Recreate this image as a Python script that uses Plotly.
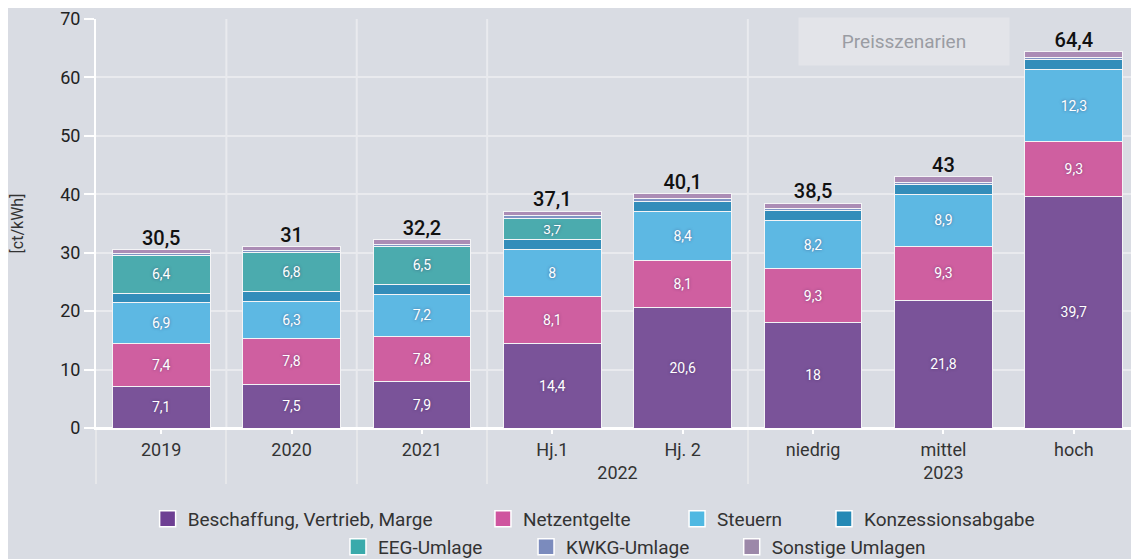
import plotly.graph_objects as go

outer = ["\u200b", "\u200b\u200b", "\u200b\u200b\u200b", "2022", "2022", "2023", "2023", "2023"]
inner = ["2019", "2020", "2021", "Hj.1", "Hj. 2", "niedrig", "mittel", "hoch"]

beschaffung = [7.1, 7.5, 7.9, 14.4, 20.6, 18.0, 21.8, 39.7]
netzentgelte = [7.4, 7.8, 7.8, 8.1, 8.1, 9.3, 9.3, 9.3]
steuern = [6.9, 6.3, 7.2, 8.0, 8.4, 8.2, 8.9, 12.3]
konzession = [1.7, 1.7, 1.7, 1.7, 1.7, 1.7, 1.7, 1.7]
eeg = [6.4, 6.8, 6.5, 3.7, 0, 0, 0, 0]
kwkg = [0.3, 0.2, 0.25, 0.4, 0.4, 0.4, 0.4, 0.4]
sonstige = [0.7, 0.7, 0.85, 0.8, 0.9, 0.9, 0.9, 1.0]
totals = [30.5, 31, 32.2, 37.1, 40.1, 38.5, 43, 64.4]

# name, values, bar colour, legend colour, labelled
series = [
    ("Beschaffung, Vertrieb, Marge", beschaffung, "#7a5399", "#6e3f93", True),
    ("Netzentgelte", netzentgelte, "#cf5fa0", "#cf559f", True),
    ("Steuern", steuern, "#5db8e3", "#4fb8e2", True),
    ("Konzessionsabgabe", konzession, "#338dba", "#2589b5", False),
    ("EEG-Umlage", eeg, "#4babae", "#3aaaab", True),
    ("KWKG-Umlage", kwkg, "#8094c4", "#7b8bbd", False),
    ("Sonstige Umlagen", sonstige, "#ab8cb5", "#9c88a9", False),
]

# legend placement (paper x, paper y) for each series' legend entry
dx = 0.0067
r1, r2 = -0.2225, -0.291
legend_pos = [
    (0.0428 + dx, r1), (0.3643 + dx, r1), (0.5504 + dx, r1), (0.6913 + dx, r1),
    (0.2253 + dx, r2), (0.4056 + dx, r2), (0.6028 + dx, r2),
]

FONT = "Roboto"


def fmt(v):
    return f"{v:g}".replace(".", ",")


fig = go.Figure()
x = [outer, inner]
for i, (name, vals, color, lcolor, labelled) in enumerate(series):
    texts = [fmt(v) if (labelled and v > 2) else "" for v in vals]
    lg = "legend" if i == 0 else f"legend{i + 1}"
    fig.add_trace(go.Bar(
        x=x, y=vals, name=name, legendgroup=name, showlegend=False,
        marker=dict(color=color, line=dict(color="#f4f4f6", width=1)),
        text=texts, textposition="inside", insidetextanchor="middle",
        textangle=0,
        textfont=dict(color="white", size=14, family=FONT,
                      shadow="0px 0px 3px rgba(60,40,90,0.55)"),
        hoverinfo="skip",
    ))
    # legend entry
    fig.add_trace(go.Scatter(
        x=[None], y=[None], mode="markers", name=name, legendgroup=name,
        legend=lg, showlegend=True,
        marker=dict(symbol="square", size=16, color=lcolor,
                    line=dict(color="white", width=1.5)),
        hoverinfo="skip",
    ))

fig.add_trace(go.Scatter(
    x=x, y=totals, mode="text", text=[fmt(t) for t in totals],
    textposition="top center",
    textfont=dict(color="#111111", size=20, family=FONT, weight=500),
    showlegend=False, hoverinfo="skip", cliponaxis=False,
))

BG = "#d9dce3"
GRID = "#e9eaee"

shapes = []
for k in [1, 2, 3, 5, 8]:
    shapes.append(dict(type="line", xref="paper", yref="paper",
                       x0=k / 8, x1=k / 8, y0=0, y1=1,
                       line=dict(color=GRID, width=2), layer="below"))

# the page adds an 8px body margin, so the figure is 8px smaller than the window
layout = dict(
    width=1131, height=551,
    paper_bgcolor=BG, plot_bgcolor=BG,
    barmode="stack", bargap=0.25,
    margin=dict(l=88, r=0, t=11, b=131, autoexpand=False),
    font=dict(family=FONT, size=18, color="#333333"),
    separators=",.",
    shapes=shapes,
    xaxis=dict(
        type="multicategory", showgrid=False, showline=True, automargin=False,
        linecolor="white", linewidth=2, tickson="labels",
        ticks="outside", ticklen=4, tickcolor="white", tickwidth=2,
        showdividers=True, dividercolor="#e6e7ea", dividerwidth=2,
        tickfont=dict(size=18, color="#333333"), ticklabelstandoff=0,
    ),
    yaxis=dict(
        range=[0, 70], dtick=10, showgrid=True, gridcolor=GRID, gridwidth=2,
        showline=True, linecolor="white", linewidth=2, automargin=False,
        ticks="outside", ticklen=10, tickcolor="white", tickwidth=2,
        zeroline=True, zerolinecolor="white", zerolinewidth=2,
        tickfont=dict(size=18, color="#222222"), ticklabeloverflow="allow",
        title=dict(text="[ct/kWh]", font=dict(size=16, color="#333333"), standoff=42),
    ),
    annotations=[dict(
        text="Preisszenarien", xref="paper", yref="paper", x=0.775, y=0.944,
        xanchor="center", yanchor="middle", showarrow=False,
        font=dict(size=19, color="#9a9ca3", family=FONT),
        bgcolor="#e3e4e9", width=208, height=45,
    )],
)
for i, (px, py) in enumerate(legend_pos):
    key = "legend" if i == 0 else f"legend{i + 1}"
    layout[key] = dict(orientation="h", x=px, y=py, xanchor="left", yanchor="middle",
                       font=dict(size=19, color="#333333", family=FONT),
                       bgcolor="rgba(0,0,0,0)")

fig.update_layout(**layout)
fig.write_html("out.html")
